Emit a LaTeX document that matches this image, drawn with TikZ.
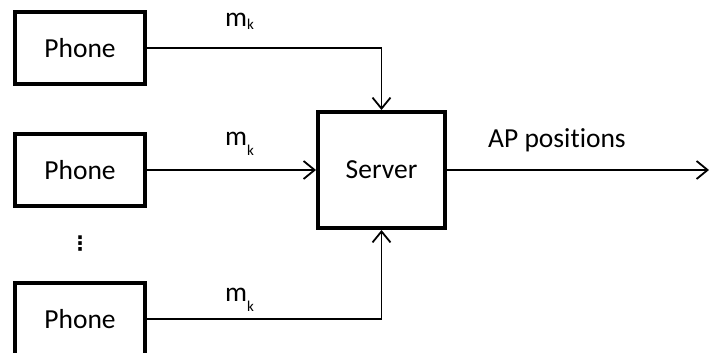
\documentclass[tikz,border=0pt]{standalone}
\usepackage{fontspec}
\setmainfont[Ligatures={CommonOff}]{Carlito}
\newfontfamily\symfont{DejaVu Sans}
\usetikzlibrary{arrows.meta}
\tikzset{
  box/.style={draw, line width=4pt, inner sep=0pt, font=\fontsize{27.5}{30}\selectfont},
  conn/.style={line width=1.8pt, -{Straight Barb[length=11pt,width=18pt,line width=1.8pt]}},
  lbl/.style={inner sep=0pt, anchor=base west, font=\fontsize{27.5}{30}\selectfont},
}
\newcommand{\mklbl}[1]{m\raisebox{-#1}{\fontsize{15}{15}\selectfont k}}
\begin{document}
\begin{tikzpicture}[x=1pt,y=-1pt]
\useasboundingbox (0,0) rectangle (710,353);
\node[box, minimum width=130pt, minimum height=72pt] (p1) at (80,48) {Phone};
\node[box, minimum width=130pt, minimum height=72pt] (p2) at (80,170) {Phone};
\node[box, minimum width=130pt, minimum height=72pt] (p3) at (80,319) {Phone};
\node[box, minimum width=127pt, minimum height=116pt] (srv) at (381.5,170) {Server};
\node[inner sep=0pt, font=\symfont\fontsize{20}{20}\selectfont\bfseries] (dots) at (80,244) {⋮};
\coordinate (out) at (709,170);
\draw[conn] (p1.east) -| (srv.north);
\draw[conn] (p2.east) -- (srv.west);
\draw[conn] (p3.east) -| (srv.south);
\draw[conn] (srv.east) -- (out);
\node[lbl] (m1) at (225,27) {\mklbl{3pt}};
\node[lbl] (m2) at (225,145) {\mklbl{10pt}};
\node[lbl] (m3) at (225,301) {\mklbl{10pt}};
\node[lbl] (ap) at (488,147) {AP positions};
\end{tikzpicture}
\end{document}
